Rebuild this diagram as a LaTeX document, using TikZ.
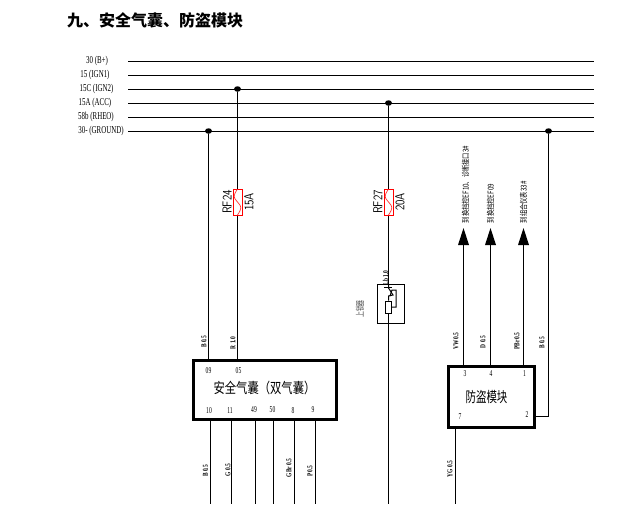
\documentclass[tikz,border=0pt]{standalone}
\usetikzlibrary{shapes.geometric}
\usepackage{fontspec}
\setmainfont{Liberation Serif}
\newfontfamily\cjk{Noto Sans CJK SC}
\newcommand{\busfont}[1]{\scalebox{.66}[1]{\fontsize{10.5}{10.5}\selectfont #1}}
\newcommand{\wirefont}[1]{\scalebox{.72}[1]{\fontsize{7.5}{7.5}\selectfont\bfseries #1}}
\newcommand{\pinfont}[1]{\scalebox{.62}[1]{\fontsize{9}{9}\selectfont #1}}
\newcommand{\cnlabel}[2][.72]{\scalebox{#1}[1]{\fontsize{14.5}{15}\selectfont\cjk #2}}
\newcommand{\tinycn}[1]{\scalebox{.78}[1]{\fontsize{8}{8}\selectfont\cjk #1}}
\newcommand{\sidecn}[1]{\scalebox{.66}[1]{\fontsize{9}{9}\selectfont\cjk #1}}
\newcommand{\fusefont}[1]{\scalebox{.85}[1]{\fontsize{13}{13}\selectfont\sffamily #1}}
\begin{document}
\begin{tikzpicture}[x=1pt,y=-1pt,
  txt/.style={inner sep=0pt,outer sep=0pt},
  bus/.style={line width=.95pt,black},
  wire/.style={line width=1pt,black},
  thickbox/.style={draw=black,line width=2.8pt,fill=white},
  dot/.style={ellipse,fill=black,inner sep=0pt,minimum width=7pt,minimum height=5.5pt},
  fusebox/.style={draw=red,line width=1pt,fill=white,minimum width=9pt,minimum height=26pt,inner sep=0pt},
  arrowtip/.style={fill=black,draw=none}]
\useasboundingbox (0,0) rectangle (626,504);
\fill[white] (0,0) rectangle (626,504);
\node[txt,anchor=west] (title) at (67,20) {\fontsize{16}{16}\selectfont\cjk\bfseries 九、安全气囊、防盗模块};
% bus rails
\foreach \nm/\yy/\lab/\lx in {a/61/30 (B+)/97, b/75/15 (IGN1)/95, c/89/15C (IGN2)/96.5, d/103/15A (ACC)/95, e/117/58b (RHEO)/96, f/131/30- (GROUND)/101}{
  \node[txt] (lab\nm) at (\lx,\yy) {\busfont{\lab}};
  \coordinate (s\nm) at (128,\yy);
  \coordinate (t\nm) at (594,\yy);
  \draw[bus] (s\nm) -- (t\nm);
}
% junctions
\node[dot] (j1) at (208.5,131) {};
\node[dot] (j2) at (237.5,89) {};
\node[dot] (j3) at (388.5,103) {};
\node[dot] (j4) at (548.5,131) {};
% airbag module
\node[thickbox,minimum width=143pt,minimum height=59pt,inner sep=0pt] (air) at (265,390) {};
\node[txt] (airtxt) at (264.5,388) {\cnlabel[.78]{安全气囊（双气囊）}};
% antitheft module
\node[thickbox,minimum width=86pt,minimum height=61pt,inner sep=0pt] (imm) at (491.5,397) {};
\node[txt] (immtxt) at (486.5,397) {\cnlabel{防盗模块}};
% fuses
\node[fusebox] (f1) at (237.5,202) {};
\node[fusebox] (f2) at (388.5,202) {};
\draw[red!80!white,line width=.7pt] (237.5,189) .. controls (233,196) and (233,197) .. (237.5,202) .. controls (242,207) and (242,208) .. (237.5,215);
\draw[red!80!white,line width=.7pt] (388.5,189) .. controls (384,196) and (384,197) .. (388.5,202) .. controls (393,207) and (393,208) .. (388.5,215);
\node[txt,rotate=90] (f1a) at (227,202) {\fusefont{RF24}};
\node[txt,rotate=90] (f1b) at (249,202) {\fusefont{15A}};
\node[txt,rotate=90] (f2a) at (378,202) {\fusefont{RF27}};
\node[txt,rotate=90] (f2b) at (400,202) {\fusefont{20A}};
% lock switch box
\node[draw=black,line width=.9pt,minimum width=27pt,minimum height=39pt,inner sep=0pt] (lock) at (390.5,303.5) {};
\node[draw=black,line width=.8pt,fill=white,minimum width=6pt,minimum height=12pt,inner sep=0pt] (res) at (388.5,307) {};
% verticals
\draw[wire] (j1) -- (j1 |- air.north);
\draw[wire] (j2) -- (f1.north);
\draw[wire] (f1.south) -- (f1.south |- air.north);
\draw[wire] (j3) -- (f2.north);
\draw[wire] (f2.south) -- (f2.south |- lock.north);
\coordinate (e3) at (388.5,504);
\draw[wire] (res.south) -- (e3);
\draw[wire] (388.5,284) -- (388.5,288) -- (393,295) -- (388.5,296) -- (res.north);
\draw[wire] (384,287) -- (392,287);
\draw[wire] (res.east) -- (396,307) -- (396,290) -- (392,290) -- (390,296);
% airbag bottom pins
\foreach \n/\xx in {10/210.5, 11/231.5, 49/255.5, 50/273.5, 8/294.5, 9/315.5}{
  \coordinate (ap\n) at (\xx,420);
  \coordinate (ae\n) at (\xx,504);
  \draw[wire] (ap\n) -- (ae\n);
}
\foreach \n/\xx/\lb/\ly in {p10/209/10/411, p11/230/11/411, p49/254/49/410, p50/272.5/50/410, p8/293/8/411, p9/313/9/410, p09/208.5/09/371, p05/238.5/05/371, q3/465/3/374, q4/491/4/374, q1/524.5/1/374, q7/460/7/417, q2/527/2/415}{
  \node[txt] (\n) at (\xx,\ly) {\pinfont{\lb}};
}
% antitheft wires and arrows
\foreach \n/\xx in {a/463.5,b/490.5,c/523.5}{
  \coordinate (tip\n) at (\xx,228);
  \coordinate (bot\n) at (\xx,366);
  \draw[wire] (bot\n) -- (\xx,245);
  \fill[arrowtip] (tip\n) -- (\xx+5.5,245) -- (\xx-5.5,245) -- cycle;
}
\coordinate (imr) at (535,416);
\coordinate (imc) at (548.5,416);
\draw[wire] (j4) -- (imc) -- (imr);
\coordinate (ime) at (455.5,504);
\draw[wire] (455.5,428) -- (ime);
% wire labels
\foreach \n/\xx/\yy/\lb in {w1/204/342/B 0.5, w2/233/343/R 1.0, w3/205.5/471/B 0.5, w4/228/470/G 0.5, w5/289/468/GBr 0.5, w6/310/471/P 0.5, w7/456/341/VW 0.5, w8/483/342/D 0.5, w9/517/341/PBr 0.5, w10/542/343/B 0.5, w11/450/469/YG 0.5, w12/385.5/278/Lb 1.0}{
  \node[txt,rotate=90] (\n) at (\xx,\yy) {\wirefont{\lb}};
}
% rotated notes
\node[txt,rotate=90,anchor=west] (n1) at (465.5,223) {\tinycn{到换挡控EF10、诊断接口3\#}};
\node[txt,rotate=90,anchor=west] (n2) at (490.5,223) {\tinycn{到换挡控EF09}};
\node[txt,rotate=90,anchor=west] (n3) at (523.5,223) {\tinycn{到组合仪表33\#}};
\node[txt,rotate=90,text=black!70] (n4) at (360,309) {\sidecn{上锁器}};
\end{tikzpicture}
\end{document}
